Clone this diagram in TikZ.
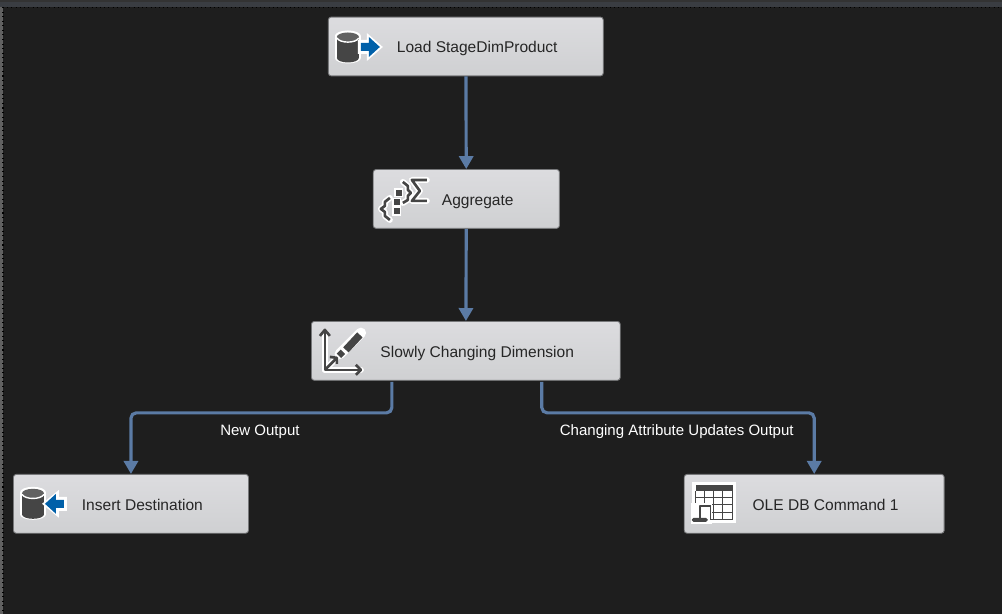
\documentclass[tikz,border=0pt]{standalone}
\usepackage{fontspec}
\setmainfont{Liberation Sans}
\usetikzlibrary{arrows.meta}
\definecolor{canvas}{HTML}{1E1E1E}
\definecolor{topbar}{HTML}{3A3D42}
\definecolor{flow}{HTML}{5B7BA5}
\definecolor{boxtop}{HTML}{DCDCDF}
\definecolor{boxbot}{HTML}{CFD0D2}
\definecolor{boxline}{HTML}{77787A}
\definecolor{icondark}{HTML}{454545}
\definecolor{iconblue}{HTML}{0060A9}
\tikzset{
  dbcyl/.pic={
    \fill[white] (-13,-11) rectangle (13,11);
    \fill[white] (0,-11) ellipse [x radius=13, y radius=5.5];
    \fill[white] (0,11) ellipse [x radius=13, y radius=5.5];
    \fill[icondark] (-11,-10) rectangle (11,11);
    \fill[icondark] (0,11) ellipse [x radius=11, y radius=4.5];
    \fill[black!62] (0,-10) ellipse [x radius=11, y radius=4.5];
    \draw[white, line width=0.8pt] (-11,-9) .. controls (-8,-3.5) and (8,-3.5) .. (11,-9);
  }
}
\begin{document}
\begin{tikzpicture}[x=0.02cm, y=-0.02cm,
  taskbox/.style={draw=boxline, line width=0.5pt, rounded corners=1.6pt, top color=boxtop, bottom color=boxbot, minimum height=33.5pt, inner sep=0pt, text=black!85, font=\fontsize{8.85}{11}\selectfont, text height=7.1pt, text depth=0pt, execute at begin node=\hspace*{13pt}},
  link/.style={draw=flow, line width=1.8pt, rounded corners=3pt, -{Triangle[length=7.4pt,width=8pt]}},
  linklabel/.style={text=white, font=\fontsize{8.55}{10}\selectfont, inner sep=0pt},
  ghost/.style={white, line width=3.4pt, line cap=round, line join=round},
  ink/.style={icondark, line width=1.5pt, line join=round}]

  \fill[canvas] (0,0) rectangle (1002,614);
  \fill[black!80] (0,0) rectangle (1002,2);
  \fill[topbar] (0,2) rectangle (1002,7);
  \fill[canvas!70!white] (0,7) rectangle (3,614);
  \draw[black, line width=0.4pt, dotted] (3,7) -- (1002,7);
  \draw[black, line width=0.6pt, dotted] (3,7) -- (3,614);

  \node[taskbox, minimum width=156.5pt] at (466,46.5) (load) {Load StageDimProduct};
  \node[taskbox, minimum width=106pt] at (466.5,199) (agg) {Aggregate};
  \node[taskbox, minimum width=175.8pt] at (466,351) (scd) {Slowly Changing Dimension};
  \node[taskbox, minimum width=133.8pt] at (131,504) (ins) {Insert Destination};
  \node[taskbox, minimum width=148pt] at (814.5,504) (ole) {OLE DB Command 1};

  \coordinate (newout) at (392,382);
  \coordinate (chgout) at (542,382);

  \draw[link] (load) -- (agg);
  \draw[link] (agg) -- (scd);
  \draw[link] (newout) -- ++(0,31) -| (ins.north);
  \draw[link] (chgout) -- ++(0,31) -| (ole.north);

  \node[linklabel] at (260,432) (newlabel) {New Output};
  \node[linklabel] at (677,432) (chglabel) {Changing Attribute Updates Output};

  % load icon
  \pic at (348,47) {dbcyl};
  \fill[white] (358,40) -- (367,40) -- (367,33) -- (383,47) -- (367,61) -- (367,54) -- (358,54) -- cycle;
  \fill[iconblue] (361,43) -- (369,43) -- (369,37) -- (380,47) -- (369,57) -- (369,51) -- (361,51) -- cycle;

  % aggregate icon
  \draw[ghost] (427,180) -- (412,180) -- (420,191) -- (412,201) -- (427,201);
  \draw[ghost] (403,182) -- (408,186) -- (408,190) -- (411,193) -- (408,196) -- (408,200) -- (403,203);
  \draw[ghost] (390,198) -- (385,202) -- (385,206) -- (381,209) -- (385,212) -- (385,216) -- (390,220);
  \fill[white] (394,188) rectangle (403,197);
  \fill[white] (392,198) rectangle (401,207);
  \fill[white] (392,207) rectangle (401,216);
  \draw[ink] (427,180) -- (412,180) -- (420,191) -- (412,201) -- (427,201);
  \draw[ink] (403,182) -- (408,186) -- (408,190) -- (411,193) -- (408,196) -- (408,200) -- (403,203);
  \draw[ink] (390,198) -- (385,202) -- (385,206) -- (381,209) -- (385,212) -- (385,216) -- (390,220);
  \fill[icondark] (396,190) rectangle (402,196);
  \fill[icondark] (394,199) rectangle (400,205);
  \fill[icondark] (394,208) rectangle (400,214);

  % scd icon
  \draw[ghost] (325,332) -- (325,370) -- (361,370);
  \draw[ghost] (325,370) -- (336,359);
  \draw[white, line width=6pt, line cap=round] (340,354) -- (361,333);
  \draw[ink] (320,336) -- (325,330) -- (330,336);
  \draw[ink] (325,331) -- (325,370) -- (361,370);
  \draw[ink] (356,365) -- (361,370) -- (356,375);
  \draw[ink] (325,370) -- (337,358);
  \draw[ink] (330,357) -- (337,358) -- (337,364);
  \draw[icondark, line width=4.2pt] (346,350) -- (360,335);
  \draw[icondark, line width=3.6pt] (339,356) -- (343,352);

  % insert icon
  \pic at (33,503.5) {dbcyl};
  \fill[white] (67,497) -- (59,497) -- (59,490) -- (42,504) -- (59,518) -- (59,511) -- (67,511) -- cycle;
  \fill[iconblue] (64,500) -- (56,500) -- (56,494) -- (45,504) -- (56,514) -- (56,508) -- (64,508) -- cycle;

  % ole command icon
  \fill[white] (692,482) rectangle (736,523);
  \fill[icondark] (696,485) rectangle (733,491);
  \foreach \colx in {696,705,714,723,733}
    \draw[icondark, line width=0.6pt] (\colx,491) -- (\colx,520);
  \foreach \rowy in {498,505,513,520}
    \draw[icondark, line width=0.6pt] (696,\rowy) -- (733,\rowy);
  \fill[white] (691,503) rectangle (712,524);
  \draw[icondark, line width=1.4pt, line join=round] (711,506) -- (700,506) -- (700,519);
  \draw[icondark, line width=0.6pt] (711,506) -- (711,520) -- (733,520);
  \fill[icondark, rounded corners=1pt] (692,518) rectangle (708,522);
\end{tikzpicture}
\end{document}
